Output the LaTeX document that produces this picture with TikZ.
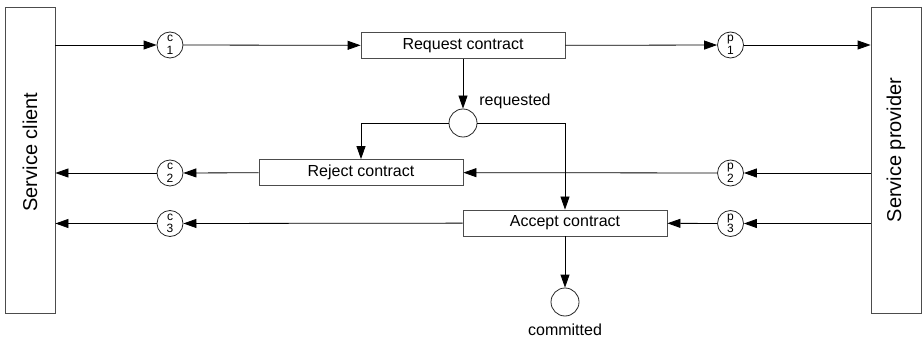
\documentclass[tikz,border=0pt]{standalone}
\usepackage{fontspec}
\setmainfont{Liberation Sans}
\usetikzlibrary{arrows.meta}
\begin{document}
\begin{tikzpicture}[x=1pt,y=-1pt,
  line width=0.8pt,
  flow/.style={-{Triangle[length=13pt,width=9pt]}},
  party/.style={draw=black!70,minimum width=306pt,minimum height=50pt,rotate=90,inner sep=0pt},
  partyname/.style={rotate=90,inner sep=0pt,font=\fontsize{20}{24}\selectfont},
  task/.style={draw=black!70,minimum width=204pt,minimum height=26pt,inner sep=0pt,font=\fontsize{16}{19}\selectfont},
  place/.style={circle,draw=black!85,minimum size=28pt,inner sep=0pt},
  chan/.style={circle,draw=black!85,minimum size=26pt,inner sep=0pt,align=center,font=\fontsize{12}{12.5}\selectfont},
  lbl/.style={font=\fontsize{16}{19}\selectfont,inner sep=0pt}]
\useasboundingbox (0,0) rectangle (923,339);

% the two parties (rotated boxes: .south is the right side, .north the left side)
\node[party] (client) at (30,160) {};
\node[partyname] (clientname) at (30,152) {Service client};
\node[party] (prov) at (896,160) {};
\node[partyname] (provname) at (896,150) {Service provider};

% transitions
\node[task] (req) at (463,45.5) {Request contract};
\node[task] (rej) at (361,172.5) {Reject contract};
\node[task] (acc) at (565,223) {Accept contract};

% places
\node[place] (reqd) at (463,123) {};
\node[lbl,anchor=west] (reqdname) at (479,101) {requested};
\node[place] (comm) at (565,302) {};
\node[lbl] (commname) at (565,330) {committed};

% message channels
\node[chan] (c1) at (170,45) {c\\1};
\node[chan] (c2) at (170,173) {c\\2};
\node[chan] (c3) at (170,223.5) {c\\3};
\node[chan] (p1) at (730.5,45) {p\\1};
\node[chan] (p2) at (730.5,173) {p\\2};
\node[chan] (p3) at (730.5,223.5) {p\\3};

% request
\draw[flow] (c1 -| client.south) -- (c1);
\draw[flow] (c1) -- (req);
\draw[flow] (req) -- (p1);
\draw[flow] (p1) -- (p1 -| prov.north);
\draw[flow] (req) -- (reqd);

% decision
\draw[flow] (reqd.west) -| (rej.north);
\draw[flow] (reqd.east) -| (acc.north);

% reject
\draw[flow] (p2 -| prov.north) -- (p2);
\draw[flow] (p2) -- (rej);
\draw[flow] (rej) -- (c2);
\draw[flow] (c2) -- (c2 -| client.south);

% accept
\draw[flow] (p3 -| prov.north) -- (p3);
\draw[flow] (p3) -- (acc);
\draw[flow] (acc) -- (c3);
\draw[flow] (c3) -- (c3 -| client.south);
\draw[flow] (acc) -- (comm);
\end{tikzpicture}
\end{document}
